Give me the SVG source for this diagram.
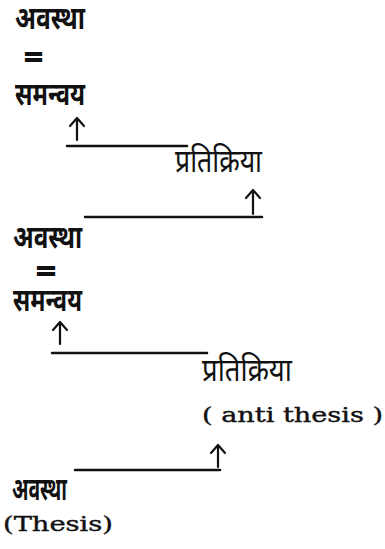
<svg xmlns="http://www.w3.org/2000/svg" width="385" height="549" viewBox="0 0 385 549">
<style>
.dv{font-family:"Noto Sans Devanagari","Noto Serif Devanagari","Lohit Devanagari","FreeSans","Noto Sans",sans-serif;font-size:32px;fill:#111;}
.dvb{font-weight:bold;}
.lat{font-family:"DejaVu Serif","Liberation Serif",serif;font-size:20px;fill:#111;stroke:#111;stroke-width:0.4;}
.eq{font-family:"Liberation Sans",sans-serif;font-weight:bold;font-size:20px;fill:#111;stroke:#111;stroke-width:1.8;}
.ln{stroke:#111;stroke-width:2.5;fill:none;stroke-linecap:round;}
.ar{stroke:#111;stroke-width:2.2;fill:none;stroke-linecap:round;stroke-linejoin:round;}
</style>
<rect width="385" height="549" fill="#fff"/>
<g id="avastha1"><text class="dv dvb" x="15" y="29" font-size="28" textLength="70" lengthAdjust="spacingAndGlyphs">अवस्था</text></g>
<g id="eq1"><text class="eq" x="25" y="64" textLength="17" lengthAdjust="spacingAndGlyphs">=</text></g>
<g id="samanvaya1"><text class="dv dvb" x="15" y="105" textLength="70" lengthAdjust="spacingAndGlyphs">समन्वय</text></g>
<g id="pratikriya1"><text class="dv" x="175" y="172" textLength="87" lengthAdjust="spacingAndGlyphs">प्रतिक्रिया</text></g>
<g id="avastha2"><text class="dv dvb" x="13" y="248" font-size="30" textLength="69" lengthAdjust="spacingAndGlyphs">अवस्था</text></g>
<g id="eq2"><text class="eq" x="37" y="278" textLength="18" lengthAdjust="spacingAndGlyphs">=</text></g>
<g id="samanvaya2"><text class="dv dvb" x="13" y="311" font-size="30" textLength="69" lengthAdjust="spacingAndGlyphs">समन्वय</text></g>
<g id="pratikriya2"><text class="dv" x="202" y="381" textLength="90" lengthAdjust="spacingAndGlyphs">प्रतिक्रिया</text></g>
<g id="antithesis"><text class="lat" x="202" y="422" textLength="181" lengthAdjust="spacingAndGlyphs">( anti thesis )</text></g>
<g id="avastha3"><text class="dv dvb" x="12" y="500" font-size="26" textLength="55" lengthAdjust="spacingAndGlyphs">अवस्था</text></g>
<g id="thesis"><text class="lat" x="3" y="531" font-size="23" textLength="110" lengthAdjust="spacingAndGlyphs">(Thesis)</text></g>
<g id="connectors">
<path class="ln" d="M67 146H187"/>
<path class="ar" d="M77 140V118M70 126L77 118L84 126"/>
<path class="ln" d="M85 217H262"/>
<path class="ar" d="M253 214V190M246 198L253 190L260 198"/>
<path class="ln" d="M52 353H207"/>
<path class="ar" d="M60 344V322M53 330L60 322L67 330"/>
<path class="ln" d="M75 470H220"/>
<path class="ar" d="M218 467V445M211 453L218 445L225 453"/>
</g>
</svg>
